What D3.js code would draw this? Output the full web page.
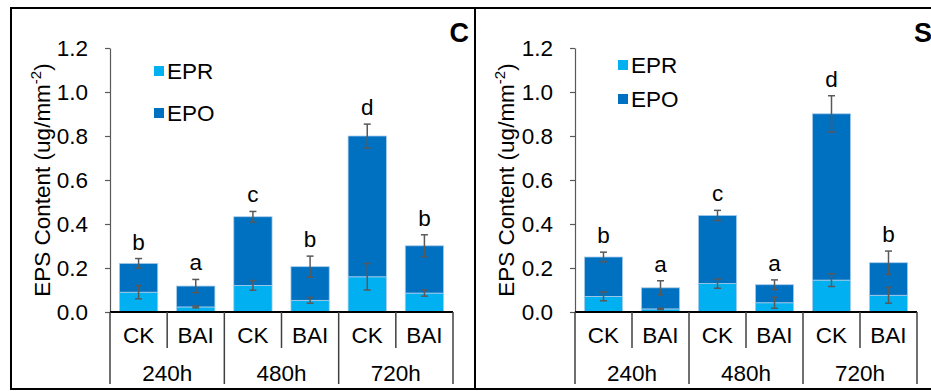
<!DOCTYPE html>
<html>
<head>
<meta charset="utf-8">
<script src="https://cdn.jsdelivr.net/npm/d3@7"></script>
<style>
  body { margin: 0; background: #fff; }
  svg { display: block; font-family: "Liberation Sans", Arial, sans-serif; }
</style>
</head>
<body>
<svg id="chart" width="931" height="391"></svg>
<script>
// Categories
const groups = ["240h", "480h", "720h"];
const treatments = ["CK", "BAI"];
const seriesNames = ["EPR", "EPO"];
const yTicks = [0, 0.2, 0.4, 0.6, 0.8, 1.0, 1.2];

// Panel C values (CK/BAI for each time)
const eprC = [0.090, 0.023, 0.121, 0.053, 0.160, 0.086];
const epoC = [0.131, 0.095, 0.312, 0.153, 0.640, 0.215];
const eprErrC = [0.030, 0.004, 0.022, 0.013, 0.060, 0.014];
const totErrC = [0.022, 0.030, 0.024, 0.048, 0.054, 0.050];
const lettersC = ["b", "a", "c", "b", "d", "b"];

// Panel S values
const eprS = [0.071, 0.014, 0.129, 0.042, 0.145, 0.076];
const epoS = [0.179, 0.096, 0.310, 0.082, 0.756, 0.148];
const eprErrS = [0.020, 0.003, 0.021, 0.025, 0.029, 0.036];
const totErrS = [0.022, 0.032, 0.023, 0.022, 0.082, 0.053];
const lettersS = ["b", "a", "c", "a", "d", "b"];

const colors = { EPR: "#00b0f0", EPO: "#0070c0" };
const FS = 22.5;

const svg = d3.select("#chart");

// Panel frames
svg.append("rect").attr("x", 11).attr("y", 8).attr("width", 464).attr("height", 381)
  .attr("fill", "none").attr("stroke", "#000").attr("stroke-width", 2);
svg.append("rect").attr("x", 475).attr("y", 8).attr("width", 470).attr("height", 381)
  .attr("fill", "none").attr("stroke", "#000").attr("stroke-width", 2);

// y scale is shared by both panels
const y = d3.scaleLinear().domain([0, 1.2]).range([312, 48]);

/**
* Draw one stacked bar panel
*/
function drawPanel(p) {
  const g = svg.append("g");
  const cats = [];
  groups.forEach(gr => treatments.forEach(t => cats.push(gr + "|" + t)));

  const x = d3.scaleBand().domain(cats).range([p.x0, p.x1]).paddingInner(0.33).paddingOuter(0.165);
  const xb = d3.scaleBand().domain(cats).range([p.x0, p.x1]);

  // y axis
  const ya = g.append("g").attr("transform", "translate(" + p.x0 + ",0)")
    .call(d3.axisLeft(y).tickValues(yTicks).tickFormat(d3.format(".1f")).tickSize(5).tickSizeOuter(0).tickPadding(17));
  ya.select(".domain").attr("stroke", "#595959").attr("stroke-width", 1.2);
  ya.selectAll(".tick line").attr("stroke", "#595959").attr("stroke-width", 1.2);
  ya.selectAll(".tick text").attr("font-size", FS).attr("fill", "#000")
    .attr("font-family", "'Liberation Sans', Arial, sans-serif");

  // axis title
  const t = g.append("text")
    .attr("transform", "translate(" + p.titleX + ",180) rotate(-90)")
    .attr("text-anchor", "middle").attr("font-size", FS).attr("fill", "#000");
  t.append("tspan").text("EPS Content  (ug/mm");
  t.append("tspan").attr("font-size", 15).attr("dy", -9).text("-2");
  t.append("tspan").attr("dy", 9).text(")");

  // stacked bars
  const rows = cats.map((c, i) => ({ cat: c, EPR: p.epr[i], EPO: p.epo[i] }));
  const stacked = d3.stack().keys(seriesNames)(rows);
  stacked.forEach(s => {
    g.append("g").selectAll("rect").data(s).enter().append("rect")
      .attr("x", d => x(d.data.cat))
      .attr("width", x.bandwidth())
      .attr("y", d => y(d[1]))
      .attr("height", d => y(d[0]) - y(d[1]))
      .attr("fill", colors[s.key])
      .attr("stroke", "#a9cdea").attr("stroke-width", 0.8);
  });

  // error bars
  const errs = [];
  cats.forEach((c, i) => {
    errs.push({ cat: c, v: p.epr[i], e: p.eprErr[i] });
    errs.push({ cat: c, v: p.epr[i] + p.epo[i], e: p.totErr[i] });
  });
  const eg = g.append("g").attr("stroke", "#595959").attr("stroke-width", 1.5);
  errs.forEach(d => {
    const cx = x(d.cat) + x.bandwidth() / 2;
    eg.append("line").attr("x1", cx).attr("x2", cx).attr("y1", y(d.v - d.e)).attr("y2", y(d.v + d.e));
    eg.append("line").attr("x1", cx - 3.5).attr("x2", cx + 3.5).attr("y1", y(d.v - d.e)).attr("y2", y(d.v - d.e));
    eg.append("line").attr("x1", cx - 3.5).attr("x2", cx + 3.5).attr("y1", y(d.v + d.e)).attr("y2", y(d.v + d.e));
  });

  // significance letters
  g.append("g").selectAll("text").data(cats).enter().append("text")
    .attr("x", c => x(c) + x.bandwidth() / 2)
    .attr("y", (c, i) => y(p.epr[i] + p.epo[i] + p.totErr[i]) - 9)
    .attr("text-anchor", "middle").attr("font-size", FS).attr("fill", "#000")
    .text((c, i) => p.letters[i]);

  // x axis with category table
  g.append("line").attr("x1", p.x0).attr("x2", p.x1).attr("y1", 312).attr("y2", 312)
    .attr("stroke", "#000").attr("stroke-width", 2);
  const bounds = cats.map(c => xb(c)).concat([p.x1]);
  bounds.forEach((bx, i) => {
    g.append("line").attr("x1", bx).attr("x2", bx).attr("y1", 312)
      .attr("y2", i % 2 === 0 ? 384 : 348)
      .attr("stroke", "#404040").attr("stroke-width", 1.5);
  });
  cats.forEach(c => {
    g.append("text").attr("x", xb(c) + xb.bandwidth() / 2).attr("y", 343)
      .attr("text-anchor", "middle").attr("font-size", FS).attr("fill", "#000")
      .text(c.split("|")[1]);
  });
  groups.forEach((gr, i) => {
    const gx = xb(gr + "|" + treatments[0]) + xb.bandwidth();
    g.append("text").attr("x", gx).attr("y", 381)
      .attr("text-anchor", "middle").attr("font-size", FS).attr("fill", "#000")
      .text(gr);
  });

  // legend
  seriesNames.forEach((s, i) => {
    const ly = p.legY + i * p.legGap;
    g.append("rect").attr("x", p.legX).attr("y", ly - 5).attr("width", 10).attr("height", 10)
      .attr("fill", colors[s]);
    g.append("text").attr("x", p.legX + 13).attr("y", ly + 8)
      .attr("font-size", FS).attr("fill", "#000").text(s);
  });

  // panel label
  g.append("text").attr("x", p.labelX).attr("y", 42)
    .attr("text-anchor", p.labelAnchor).attr("font-size", 27).attr("font-weight", "bold")
    .attr("fill", "#000").text(p.label);
}

drawPanel({
  x0: 110, x1: 453, titleX: 50,
  epr: eprC, epo: epoC, eprErr: eprErrC, totErr: totErrC, letters: lettersC,
  legX: 154, legY: 71, legGap: 42,
  label: "C", labelX: 469, labelAnchor: "end"
});
drawPanel({
  x0: 575, x1: 917, titleX: 514,
  epr: eprS, epo: epoS, eprErr: eprErrS, totErr: totErrS, letters: lettersS,
  legX: 618, legY: 65, legGap: 34,
  label: "S", labelX: 914, labelAnchor: "start"
});
</script>
</body>
</html>
